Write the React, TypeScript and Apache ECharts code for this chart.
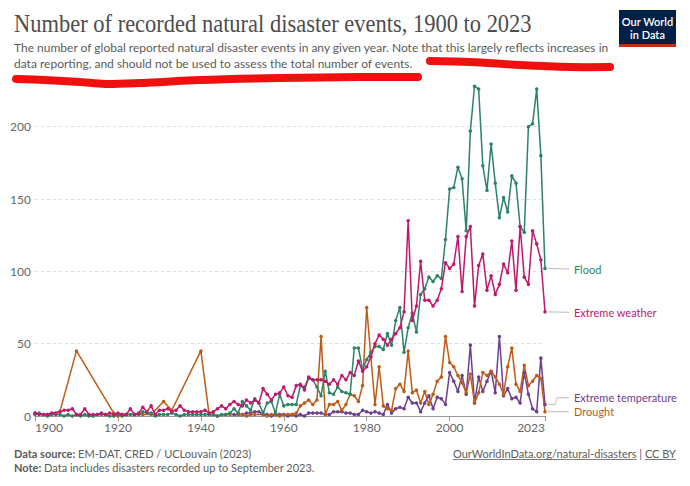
import React, { useEffect, useRef } from "react";
import * as echarts from "echarts";

// ---------- data ----------
const FIRST_YEAR = 1900;

const floodValues = [
  1, 2, 1, 0, 1, 1, 1, 0, 1, 0,
  1, 0, 1, 0, 0, 1, 1, 1, 0, 0,
  1, 0, 1, 1, 1, 1, 3, 2, 2, 0,
  1, 1, 1, 2, 1, 0, 1, 1, 1, 1,
  1, 1, 1, 1, 0, 1, 1, 2, 5, 2,
  10, 7, 4, 12, 9, 2, 9, 10, 2, 15,
  7, 8, 8, 8, 21, 20, 26, 25, 20, 14,
  31, 16, 15, 20, 17, 16, 15, 47, 47, 32,
  39, 44, 48, 48, 46, 57, 49, 66, 75, 44,
  61, 71, 58, 84, 88, 96, 93, 97, 95, 122,
  157, 158, 172, 164, 128, 197, 228, 226, 173, 156,
  188, 161, 137, 151, 141, 166, 161, 131, 127, 200,
  202, 226, 180, 102,
];

const weatherValues = [
  2, 1, 1, 1, 2, 2, 3, 4, 4, 5,
  1, 1, 5, 1, 1, 1, 2, 1, 2, 1,
  2, 1, 1, 5, 1, 2, 6, 3, 7, 1,
  4, 4, 5, 3, 4, 7, 4, 3, 3, 3,
  3, 4, 2, 3, 5, 7, 5, 8, 10, 8,
  7, 11, 9, 11, 9, 19, 15, 11, 15, 16,
  20, 14, 13, 21, 22, 18, 27, 25, 25, 25,
  24, 22, 25, 22, 28, 25, 30, 28, 38, 31,
  34, 41, 50, 56, 53, 49, 53, 57, 61, 72,
  135, 66, 76, 107, 80, 80, 76, 80, 88, 106,
  102, 105, 124, 86, 124, 131, 76, 104, 112, 87,
  97, 84, 91, 105, 99, 121, 87, 131, 96, 91,
  128, 119, 108, 72,
];

const TEMP_FIRST_YEAR = 1948;
const tempValues = [
  1, 1,
  1, 2, 2, 3, 3, 1, 1, 0, 1, 1,
  1, 0, 1, 0, 1, 0, 2, 2, 2, 2,
  1, 1, 3, 3, 3, 2, 2, 1, 1, 4,
  3, 2, 3, 2, 1, 8, 2, 5, 6, 5,
  13, 9, 9, 3, 9, 14, 5, 13, 12, 8,
  30, 24, 17, 28, 15, 49, 9, 27, 17, 24,
  31, 16, 55, 14, 19, 12, 13, 9, 30, 15,
  5, 3, 40, 8,
];

const droughtYears = [
  1900, 1903, 1906, 1910, 1919, 1920, 1921, 1924, 1926, 1928, 1931, 1933, 1940,
  1942, 1943, 1944, 1946, 1947, 1949, 1950, 1951, 1952, 1953, 1955, 1956, 1957,
  1958, 1959, 1960, 1961, 1962, 1963, 1964, 1965, 1966, 1967, 1968, 1969, 1970,
  1971, 1972, 1973, 1974, 1975, 1976, 1977, 1978, 1979, 1980, 1981, 1982, 1983,
  1984, 1985, 1986, 1987, 1988, 1989, 1990, 1991, 1992, 1993, 1994, 1995, 1996,
  1997, 1998, 1999, 2000, 2001, 2002, 2003, 2004, 2005, 2006, 2007, 2008, 2009,
  2010, 2011, 2012, 2013, 2014, 2015, 2016, 2017, 2018, 2019, 2020, 2021, 2022,
  2023,
];
const droughtValues = [
  2, 1, 3, 45, 2, 0, 1, 1, 1, 1, 10, 4, 45,
  1, 1, 0, 1, 1, 1, 1, 0, 1, 1, 1, 0, 1,
  1, 0, 1, 1, 1, 2, 7, 9, 11, 8, 11, 55, 1,
  8, 8, 10, 4, 8, 15, 14, 10, 21, 75, 41, 8, 34,
  7, 5, 4, 19, 22, 17, 45, 16, 18, 9, 17, 8, 15,
  24, 27, 55, 37, 34, 28, 23, 16, 29, 9, 16, 30, 28,
  31, 27, 22, 15, 34, 47, 22, 17, 35, 21, 24, 28, 26,
  3,
];

const xTickYears = [1900, 1920, 1940, 1960, 1980, 2000, 2023];
const yMax = 200;
const yInterval = 50;

const seriesNames = ["Flood", "Extreme weather", "Extreme temperature", "Drought"];
const seriesColors = ["#2c8465", "#c0186c", "#6d3e91", "#bf5b17"];

// ---------- layout ----------
const W = 690;
const H = 486;
const GRID = { left: 35, right: 145, top: 126.7, bottom: 70 };
const FONT = "Lato, 'Noto Sans', sans-serif";

function measure(text: string, font: string): number {
  const c = document.createElement("canvas").getContext("2d");
  if (!c) return text.length * 6;
  c.font = font;
  return c.measureText(text).width;
}

export default function App() {
  const ref = useRef<HTMLDivElement>(null);

  useEffect(() => {
    if (!ref.current) return;
    const chart = echarts.init(ref.current, undefined, { renderer: "svg", width: W, height: H });

    const flood = floodValues.map((v, i) => [FIRST_YEAR + i, v]);
    const weather = weatherValues.map((v, i) => [FIRST_YEAR + i, v]);
    const temp = tempValues.map((v, i) => [TEMP_FIRST_YEAR + i, v]);
    const drought = droughtYears.map((y, i) => [y, droughtValues[i]]);
    const allData = [flood, weather, temp, drought];

    const plotBottom = H - GRID.bottom;
    const plotRight = W - GRID.right;
    const yPx = (v: number) => plotBottom - (v / yMax) * (plotBottom - GRID.top);

    const titleText = "Number of recorded natural disaster events, 1900 to 2023";
    const titleFont = "25px 'Liberation Serif'";
    const titleW = measure(titleText, titleFont);
    const titleScale = 518 / titleW;

    const subFont = `12px ${FONT}`;
    const linkText = "OurWorldInData.org/natural-disasters";
    const footFont = `11px ${FONT}`;
    const footMeasureFont = "11px Lato";
    const ccW = measure("CC BY", footMeasureFont);
    const barW = measure(" | ", footMeasureFont);
    const linkW = measure(linkText, footMeasureFont);
    const rightEdge = 676;

    const labelX = 574;
    const labelYs = [269, 312.3, 397.8, 411.8];
    const lastVals = [
      floodValues[floodValues.length - 1],
      weatherValues[weatherValues.length - 1],
      tempValues[tempValues.length - 1],
      droughtValues[droughtValues.length - 1],
    ];

    const connectors: any[] = lastVals.map((v, i) => {
      const y0 = yPx(v);
      const y1 = labelYs[i];
      const pts =
        Math.abs(y0 - y1) < 2
          ? [[plotRight + 3, y0], [labelX - 5, y1]]
          : [[plotRight + 3, y0], [plotRight + 10, y0], [plotRight + 12, y1], [labelX - 5, y1]];
      return {
        type: "polyline",
        shape: { points: pts },
        style: { stroke: "#bbbbbb", lineWidth: 1, fill: null },
        silent: true,
      };
    });

    const legendTexts: any[] = seriesNames.map((n, i) => ({
      type: "text",
      x: labelX,
      y: labelYs[i],
      style: {
        text: n,
        fill: seriesColors[i],
        font: `11px ${FONT}`,
        verticalAlign: "middle",
        align: "left",
      },
    }));

    chart.setOption({
      animation: false,
      grid: { left: GRID.left, right: GRID.right, top: GRID.top, bottom: GRID.bottom, containLabel: false },
      xAxis: {
        type: "value",
        min: FIRST_YEAR,
        max: 2023,
        interval: 20,
        axisLine: { show: true, lineStyle: { color: "#999999", width: 1 } },
        axisTick: { show: true, customValues: xTickYears, length: 5, lineStyle: { color: "#999999" } },
        axisLabel: {
          customValues: xTickYears,
          color: "#666666",
          fontFamily: FONT,
          fontSize: 12,
          margin: 5,
          alignMinLabel: "left",
          alignMaxLabel: "right",
          formatter: (v: number) => String(v),
        },
        splitLine: { show: false },
      },
      yAxis: {
        type: "value",
        min: 0,
        max: yMax,
        interval: yInterval,
        axisLine: { show: false },
        axisTick: { show: false },
        axisLabel: { color: "#666666", fontFamily: FONT, fontSize: 12, margin: 4 },
        splitLine: { lineStyle: { color: "#dddddd", type: [3, 3], width: 1 } },
      },
      series: seriesNames.map((n, i) => ({
        name: n,
        type: "line",
        data: allData[i],
        clip: false,
        symbol: "circle",
        symbolSize: 3.5,
        showSymbol: true,
        lineStyle: { color: seriesColors[i], width: 1.5 },
        itemStyle: { color: seriesColors[i] },
        emphasis: { disabled: true },
        z: [3, 4, 2, 2][i],
      })),
      graphic: [
        {
          type: "text",
          x: 14,
          y: 24,
          scaleX: titleScale,
          originX: 0,
          style: {
            text: titleText,
            fill: "#4d4d4d",
            font: titleFont,
            verticalAlign: "middle",
          },
        },
        {
          type: "text",
          x: 14,
          y: 47,
          style: {
            text: "The number of global reported natural disaster events in any given year. Note that this largely reflects increases in",
            fill: "#5b5b5b",
            font: subFont,
            verticalAlign: "middle",
          },
        },
        {
          type: "text",
          x: 14,
          y: 63,
          style: {
            text: "data reporting, and should not be used to assess the total number of events.",
            fill: "#5b5b5b",
            font: subFont,
            verticalAlign: "middle",
          },
        },
        // logo
        { type: "rect", shape: { x: 619, y: 10, width: 57, height: 34 }, style: { fill: "#002147" } },
        { type: "rect", shape: { x: 619, y: 44, width: 57, height: 3 }, style: { fill: "#ce261e" } },
        {
          type: "text",
          x: 647.5,
          y: 21,
          style: { text: "Our World", fill: "#ffffff", font: `600 11px ${FONT}`, align: "center", verticalAlign: "middle" },
        },
        {
          type: "text",
          x: 647.5,
          y: 34,
          style: { text: "in Data", fill: "#ffffff", font: `600 11px ${FONT}`, align: "center", verticalAlign: "middle" },
        },
        // red scribbles
        {
          type: "polyline",
          shape: {
            points: [[16, 79], [45, 80], [80, 82], [105, 84], [140, 83], [200, 80], [280, 78], [360, 77], [418, 77]],
            smooth: 0.3,
          },
          style: { stroke: "#f01010", lineWidth: 8, lineCap: "round", lineJoin: "round", fill: null },
        },
        {
          type: "polyline",
          shape: {
            points: [[430, 61], [470, 62], [520, 65], [570, 67], [610, 67]],
            smooth: 0.3,
          },
          style: { stroke: "#f01010", lineWidth: 8, lineCap: "round", lineJoin: "round", fill: null },
        },
        ...connectors,
        ...legendTexts,
        // footer
        {
          type: "text",
          x: 14,
          y: 453,
          style: {
            text: "{b|Data source:} EM-DAT, CRED / UCLouvain (2023)",
            fill: "#5b5b5b",
            font: footFont,
            verticalAlign: "middle",
            rich: { b: { fontWeight: "bold", fill: "#5b5b5b", fontFamily: FONT, fontSize: 11 } },
          },
        },
        {
          type: "text",
          x: 14,
          y: 467,
          style: {
            text: "{b|Note:} Data includes disasters recorded up to September 2023.",
            fill: "#5b5b5b",
            font: footFont,
            verticalAlign: "middle",
            rich: { b: { fontWeight: "bold", fill: "#5b5b5b", fontFamily: FONT, fontSize: 11 } },
          },
        },
        {
          type: "text",
          x: rightEdge,
          y: 453,
          style: { text: "CC BY", fill: "#5b5b5b", font: footFont, align: "right", verticalAlign: "middle" },
        },
        {
          type: "text",
          x: rightEdge - ccW,
          y: 453,
          style: { text: " | ", fill: "#5b5b5b", font: footFont, align: "right", verticalAlign: "middle" },
        },
        {
          type: "text",
          x: rightEdge - ccW - barW,
          y: 453,
          style: { text: linkText, fill: "#5b5b5b", font: footFont, align: "right", verticalAlign: "middle" },
        },
        {
          type: "line",
          shape: { x1: rightEdge - ccW, y1: 459.5, x2: rightEdge, y2: 459.5 },
          style: { stroke: "#5b5b5b", lineWidth: 0.8 },
        },
        {
          type: "line",
          shape: { x1: rightEdge - ccW - barW - linkW, y1: 459.5, x2: rightEdge - ccW - barW, y2: 459.5 },
          style: { stroke: "#5b5b5b", lineWidth: 0.8 },
        },
      ],
    });

    return () => chart.dispose();
  }, []);

  return (
    <div
      ref={ref}
      style={{ position: "fixed", left: 0, top: 0, width: W, height: H, background: "#ffffff" }}
    />
  );
}
